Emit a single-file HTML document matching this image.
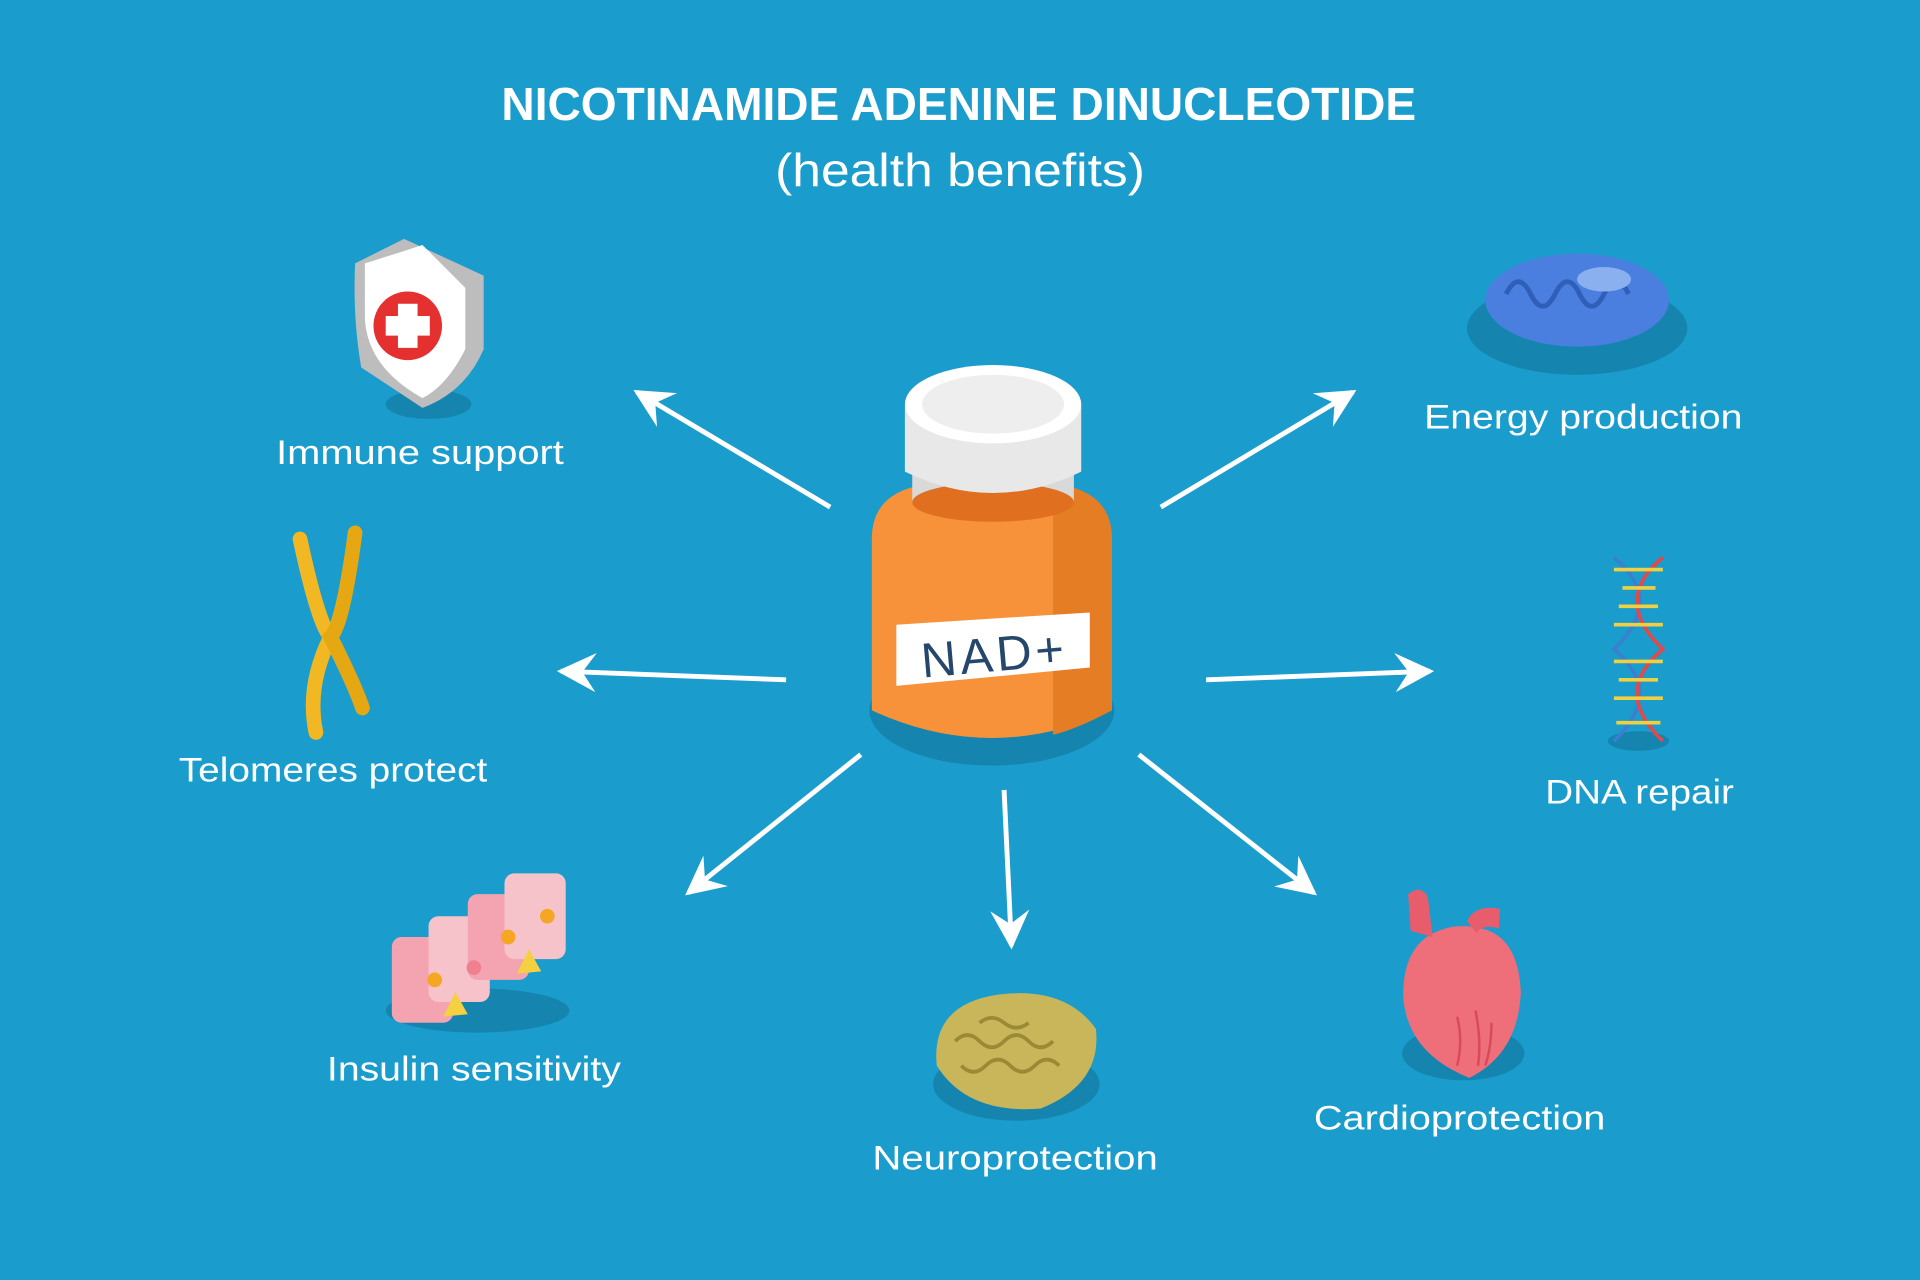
<!DOCTYPE html>
<html><head><meta charset="utf-8"><style>
html,body{margin:0;padding:0;background:#1a9ccc;}
svg{display:block}
text{font-family:"Liberation Sans",sans-serif;fill:#fff}
</style></head><body>
<svg width="1920" height="1280" viewBox="0 0 1568 1045" preserveAspectRatio="none" xmlns="http://www.w3.org/2000/svg">
<defs>
<marker id="ah" viewBox="0 0 10 10" refX="9" refY="5" markerWidth="8" markerHeight="8" orient="auto"><path d="M0,0 L10,5 L0,10 L3.5,5 z" fill="#fff"/></marker>
</defs>
<rect width="1568" height="1045" fill="#1a9ccc"/>
<text x="783" y="98" font-size="38" font-weight="bold" text-anchor="middle" textLength="747" lengthAdjust="spacingAndGlyphs">NICOTINAMIDE ADENINE DINUCLEOTIDE</text>
<text x="784" y="152" font-size="38" text-anchor="middle" textLength="302" lengthAdjust="spacingAndGlyphs">(health benefits)</text>

<g stroke="#fff" stroke-width="4" fill="none" marker-end="url(#ah)">
<line x1="678" y1="414" x2="520" y2="320"/>
<line x1="642" y1="555" x2="458" y2="548"/>
<line x1="703" y1="616" x2="562" y2="729"/>
<line x1="820" y1="645" x2="826" y2="772"/>
<line x1="930" y1="616" x2="1073" y2="729"/>
<line x1="985" y1="555" x2="1168" y2="548"/>
<line x1="948" y1="414" x2="1105" y2="320"/>
</g>

<g font-size="28">
<text x="343" y="379" text-anchor="middle" textLength="235" lengthAdjust="spacingAndGlyphs">Immune support</text>
<text x="272" y="638" text-anchor="middle" textLength="252" lengthAdjust="spacingAndGlyphs">Telomeres protect</text>
<text x="387" y="882" text-anchor="middle" textLength="240" lengthAdjust="spacingAndGlyphs">Insulin sensitivity</text>
<text x="829" y="955" text-anchor="middle" textLength="233" lengthAdjust="spacingAndGlyphs">Neuroprotection</text>
<text x="1192" y="922" text-anchor="middle" textLength="238" lengthAdjust="spacingAndGlyphs">Cardioprotection</text>
<text x="1339" y="656" text-anchor="middle" textLength="154" lengthAdjust="spacingAndGlyphs">DNA repair</text>
<text x="1293" y="350" text-anchor="middle" textLength="260" lengthAdjust="spacingAndGlyphs">Energy production</text>
</g>

<!-- bottle -->
<ellipse cx="810" cy="580" rx="100" ry="45" fill="#1585b0"/>
<path d="M712,440 Q712,400 760,395 L860,395 Q908,400 908,440 L908,580 Q810,625 712,580 Z" fill="#f7923a"/>
<path d="M860,395 Q908,400 908,440 L908,580 Q880,595 860,600 Z" fill="#e57d25"/>
<rect x="745" y="380" width="132" height="30" fill="#d9d9d9"/>
<ellipse cx="811" cy="410" rx="66" ry="16" fill="#e07020"/>
<path d="M739,330 L739,385 Q811,420 883,385 L883,330 Z" fill="#e8e8e8"/>
<ellipse cx="811" cy="330" rx="72" ry="32" fill="#fff"/>
<ellipse cx="811" cy="330" rx="58" ry="24" fill="#eeeeee"/>
<path d="M732,510 L890,500 L890,545 L732,560 Z" fill="#fff"/>
<text x="812" y="548" font-size="40" text-anchor="middle" style="fill:#24476b" transform="rotate(-5 812 535)" letter-spacing="3">NAD+</text>

<!-- shield -->
<ellipse cx="350" cy="330" rx="35" ry="12" fill="#1585b0"/>
<path d="M330,195 L395,225 L395,285 Q380,320 345,333 L295,300 Q288,260 290,215 Z" fill="#bdbdbd"/>
<path d="M298,215 Q330,205 345,200 L380,235 L380,285 Q365,315 345,325 Q300,300 298,260 Z" fill="#fff"/>
<circle cx="333" cy="266" r="28" fill="#e53030"/>
<rect x="325" y="248" width="16" height="36" fill="#fff"/>
<rect x="315" y="258" width="36" height="16" fill="#fff"/>

<!-- chromosome -->
<path d="M245,440 Q260,510 270,520 Q250,560 258,598" stroke="#f2b824" stroke-width="12" fill="none" stroke-linecap="round"/>
<path d="M290,435 Q280,510 270,520 Q290,560 296,578" stroke="#e6a812" stroke-width="12" fill="none" stroke-linecap="round"/>

<!-- cells -->
<ellipse cx="390" cy="825" rx="75" ry="18" fill="#1585b0"/>
<g>
<rect x="320" y="765" width="50" height="70" rx="8" fill="#f4a4b0"/>
<rect x="350" y="748" width="50" height="70" rx="8" fill="#f7c3cb"/>
<rect x="382" y="730" width="50" height="70" rx="8" fill="#f4a4b0"/>
<rect x="412" y="713" width="50" height="70" rx="8" fill="#f7c3cb"/>
<circle cx="355" cy="800" r="6" fill="#f5a623"/><circle cx="387" cy="790" r="6" fill="#f08090"/>
<circle cx="415" cy="765" r="6" fill="#f5a623"/><circle cx="447" cy="748" r="6" fill="#f5a623"/>
<path d="M362,830 L372,810 L382,828 Z" fill="#f5d040"/><path d="M422,795 L432,775 L442,793 Z" fill="#f5d040"/>
</g>

<!-- brain -->
<ellipse cx="830" cy="885" rx="68" ry="30" fill="#1585b0"/>
<path d="M765,870 Q760,820 815,812 Q870,805 895,840 Q900,885 850,905 Q790,910 765,870 Z" fill="#c9b55a"/>
<path d="M780,850 q10,-10 20,0 t20,0 t20,0 t20,0 M785,870 q10,10 20,0 t20,0 t20,0 t20,0 M800,835 q10,-8 20,0 t20,0" stroke="#9b8a35" stroke-width="3" fill="none"/>

<!-- heart -->
<ellipse cx="1195" cy="860" rx="50" ry="22" fill="#1585b0"/>
<path d="M1165,765 Q1145,780 1146,815 Q1150,860 1200,880 Q1240,860 1242,810 Q1240,765 1210,758 Q1185,752 1165,765 Z" fill="#ee6e7a"/>
<path d="M1152,760 L1150,730 Q1160,722 1166,732 L1170,765 Z" fill="#e85d6c"/>
<path d="M1198,752 Q1205,738 1225,742 L1224,758 Q1210,754 1206,762 Z" fill="#e85d6c"/>
<path d="M1190,830 q5,20 0,40 M1205,825 q5,25 2,45 M1218,835 q0,20 -5,35" stroke="#d84a5a" stroke-width="2" fill="none"/>

<!-- DNA -->
<ellipse cx="1338" cy="605" rx="25" ry="8" fill="#1585b0"/>
<g stroke-width="3">
<path d="M1318,455 Q1360,490 1318,530 Q1360,565 1318,605" stroke="#3a7fd0" fill="none"/>
<path d="M1358,455 Q1316,490 1358,530 Q1316,565 1358,605" stroke="#e04a4a" fill="none"/>
<g stroke="#f0d040">
<line x1="1318" y1="465" x2="1358" y2="465"/><line x1="1325" y1="480" x2="1352" y2="480"/>
<line x1="1322" y1="495" x2="1354" y2="495"/><line x1="1318" y1="510" x2="1358" y2="510"/>
<line x1="1318" y1="540" x2="1358" y2="540"/><line x1="1322" y1="555" x2="1354" y2="555"/>
<line x1="1318" y1="570" x2="1358" y2="570"/><line x1="1320" y1="590" x2="1356" y2="590"/>
</g></g>

<!-- mitochondria -->
<ellipse cx="1288" cy="268" rx="90" ry="38" fill="#1585b0"/>
<ellipse cx="1288" cy="245" rx="75" ry="38" fill="#4a7fe0"/>
<path d="M1230,240 q10,-20 20,0 t20,0 t20,0 t20,0 t20,0" stroke="#2f5fb8" stroke-width="4" fill="none"/>
<ellipse cx="1310" cy="228" rx="22" ry="10" fill="#8ab0f0"/>
</svg>
</body></html>
